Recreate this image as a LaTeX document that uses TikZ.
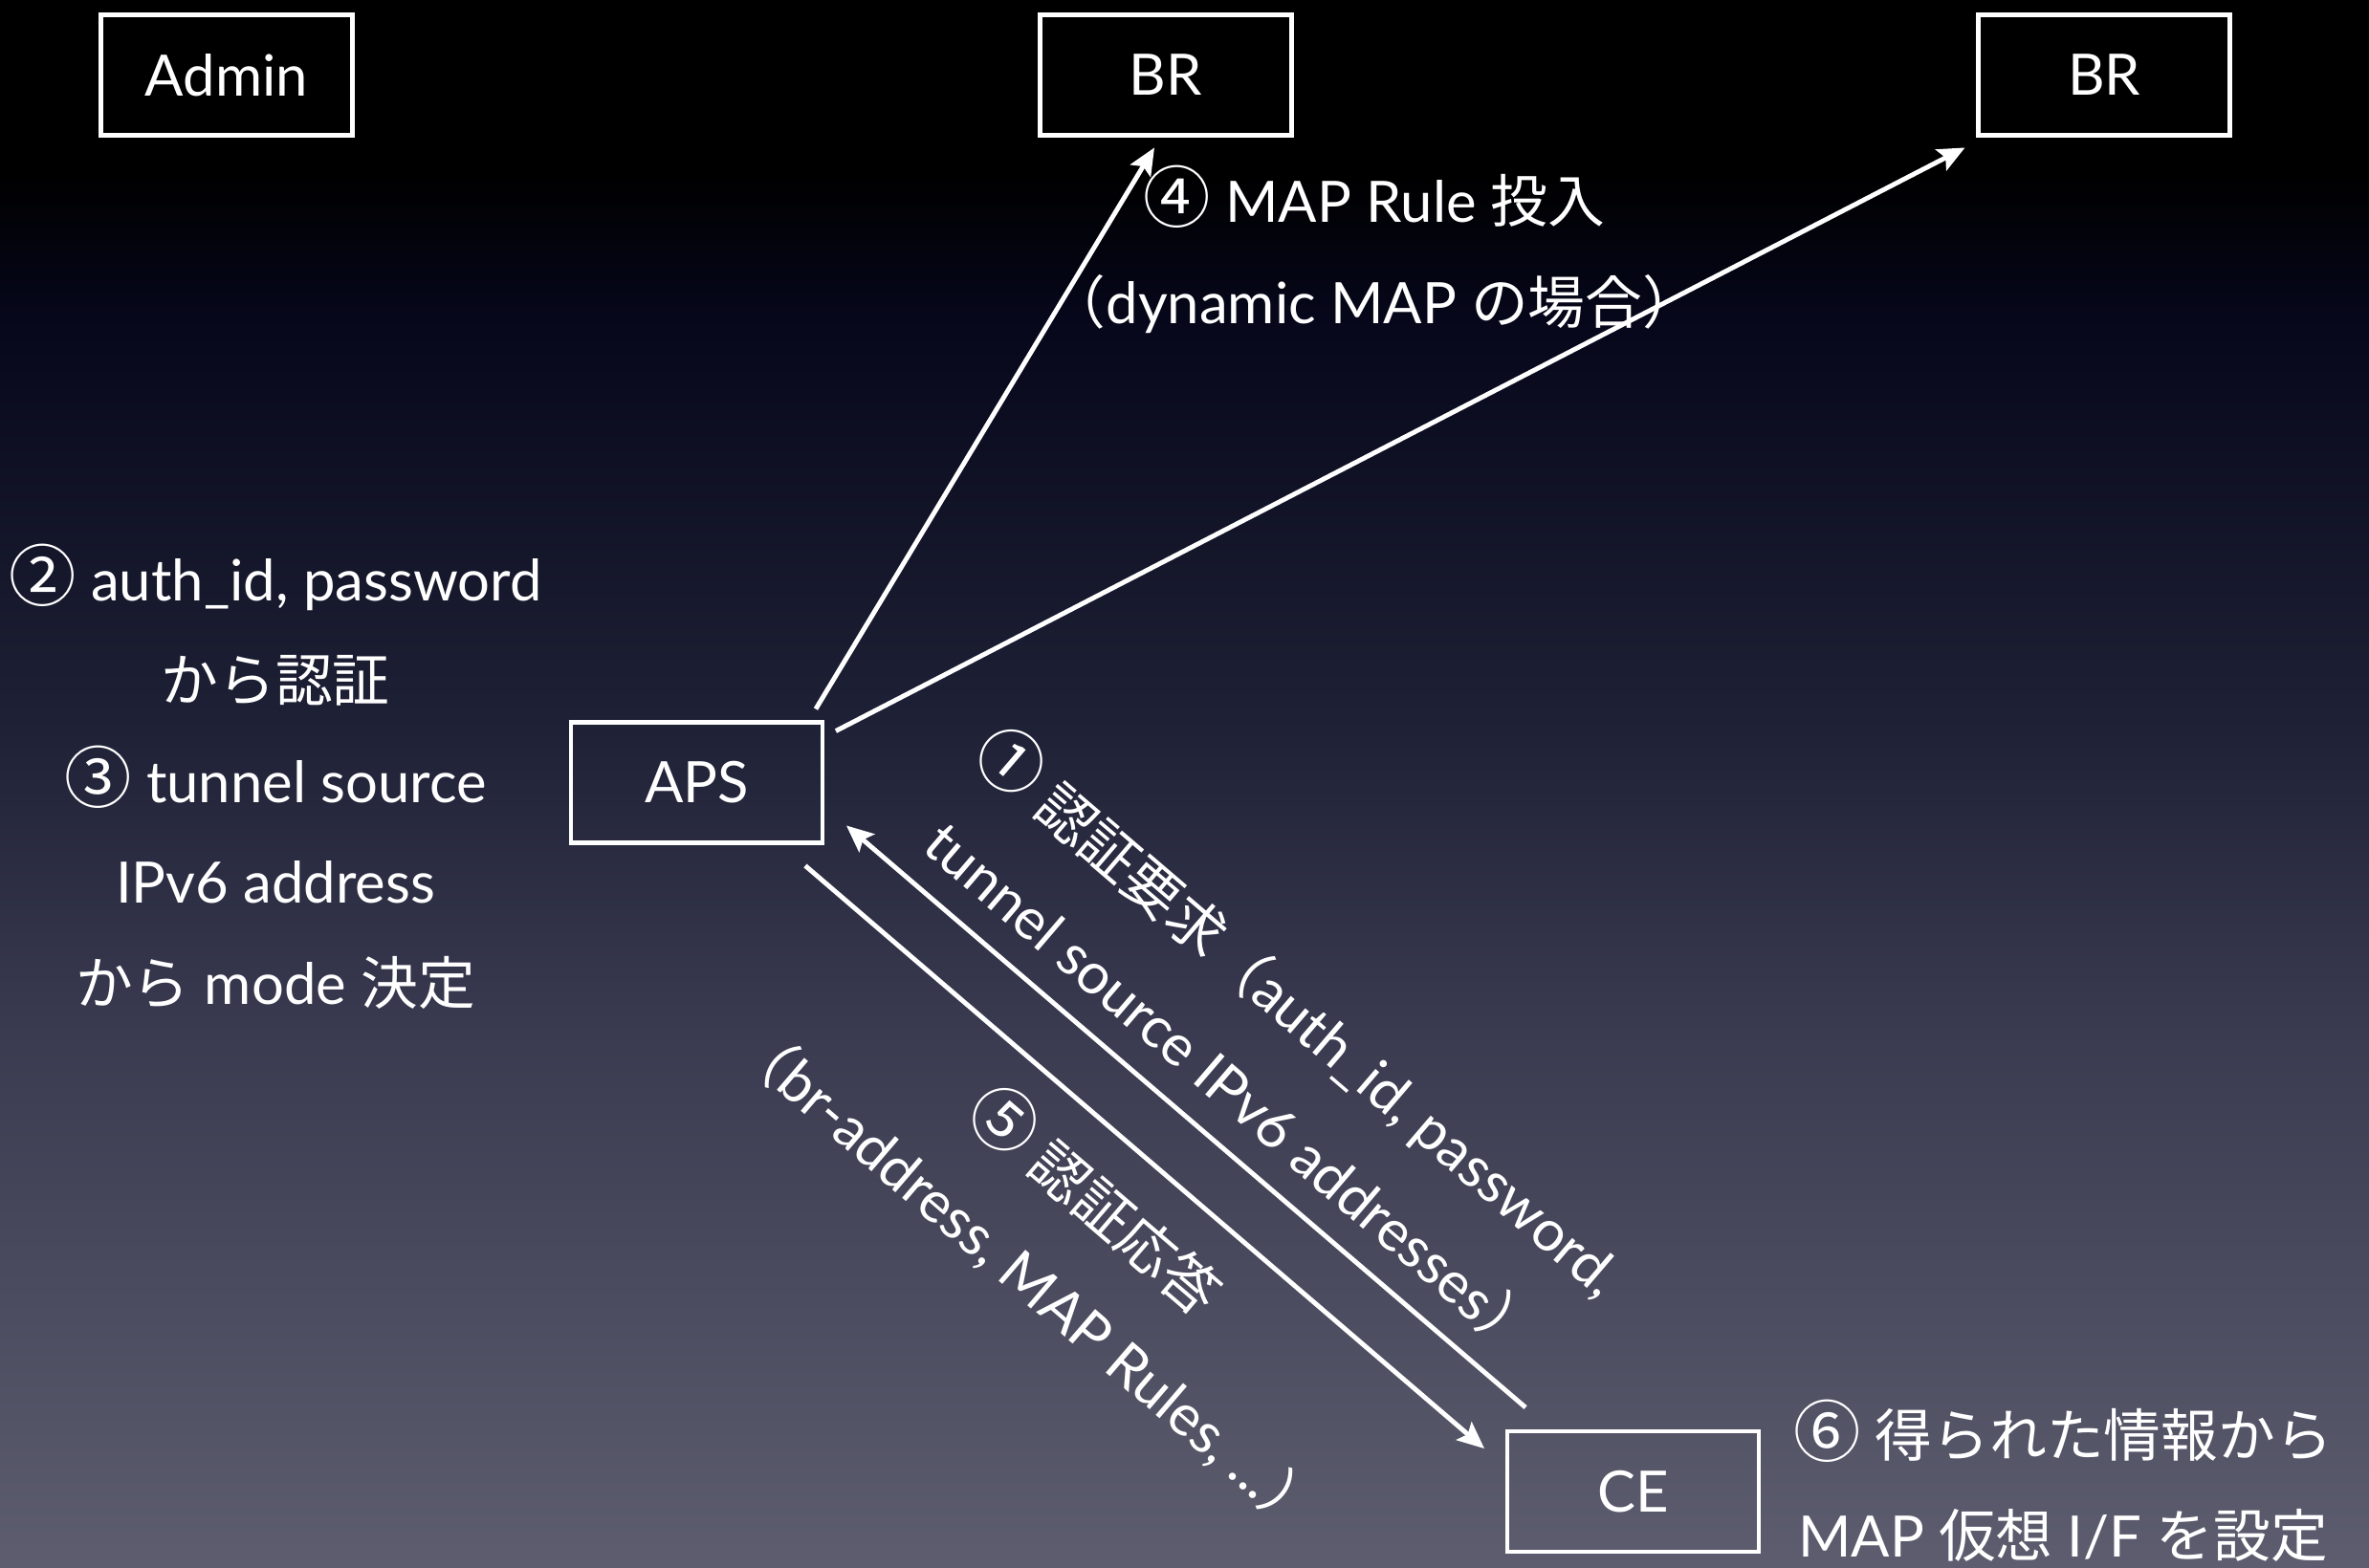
\documentclass[tikz,border=0pt]{standalone}
\usepackage{fontspec}
\usepackage{tikz}
\usetikzlibrary{arrows.meta}
\setmainfont{Lato}
\newfontfamily\jp{Noto Sans CJK JP}
\newcommand{\J}[1]{{\jp #1}}
\newcommand{\C}[1]{{\jp\fontsize{20}{30}\selectfont #1}}
\definecolor{bgbot}{RGB}{93,93,111}
\definecolor{bgmid}{RGB}{58,59,80}
\definecolor{bgnavy}{RGB}{30,32,53}
\definecolor{bgdark}{RGB}{6,7,26}
\pgfdeclareverticalshading{slidebg}{100bp}{color(0bp)=(bgbot); color(25bp)=(bgbot); color(42.07bp)=(bgmid); color(52.13bp)=(bgnavy); color(64.94bp)=(bgdark); color(69.5bp)=(black); color(100bp)=(black)}

\begin{document}
\begin{tikzpicture}[
  box/.style={draw=white, line width=1.4pt, rectangle, minimum width=2.63cm, minimum height=1.26cm, inner sep=0pt, text=white, font=\fontsize{17}{30}\selectfont},
  note/.style={text=white, align=center, inner sep=0pt, font=\fontsize{17}{30}\selectfont},
  arr/.style={->, >={Stealth[length=8pt,width=7pt,inset=1.5pt]}, line width=1.4pt, white}
]
\shade[shading=slidebg] (0,0) rectangle (24.77,-16.40);
\node[box] (admin) at (2.37,-0.785) {Admin};
\node[box] (br1) at (12.19,-0.785) {BR};
\node[box] (br2) at (22.0,-0.785) {BR};
\node[box] (aps) at (7.285,-8.185) {APS};
\node[box] (ce) at (17.075,-15.6) {CE};
\node[note] (authnote) at (2.88,-8.12) {\C{②} auth\_id, password\\\J{から認証}\\\C{③} tunnel source\\IPv6 address\\\J{から} mode \J{決定}};
\node[note] (rulenote) at (14.37,-2.61) {\C{④} MAP Rule \J{投入}\\\J{（}dynamic MAP \J{の場合）}};
\node[note] (cenote) at (21.57,-15.49) {\C{⑥} \J{得られた情報から}\\MAP \J{仮想} I/F \J{を設定}};
\draw [arr] ([xshift=-.095cm, yshift=.115cm]aps.north east) -- ([xshift=-.12cm, yshift=-.105cm]br1.south);
\draw [arr] ([xshift=.115cm, yshift=-.115cm]aps.north east) -- ([xshift=-.115cm, yshift=-.105cm]br2.south west);
\draw [arr] ([xshift=.215cm, yshift=.225cm]ce.north west) -- node[note, sloped, pos=.48, above=.23cm] {\C{①} \J{認証要求（}auth\_id, password,\\tunnel source IPv6 addresses\J{）}} ([xshift=.225cm, yshift=.205cm]aps.south east);
\draw [arr] ([xshift=-.205cm, yshift=-.215cm]aps.south east) -- node[note, sloped, pos=.49, below=.3cm] {\C{⑤} \J{認証応答}\\\J{（}br-address, MAP Rules, ...\J{）}} ([xshift=-.215cm, yshift=-.205cm]ce.north west);
\end{tikzpicture}
\end{document}
